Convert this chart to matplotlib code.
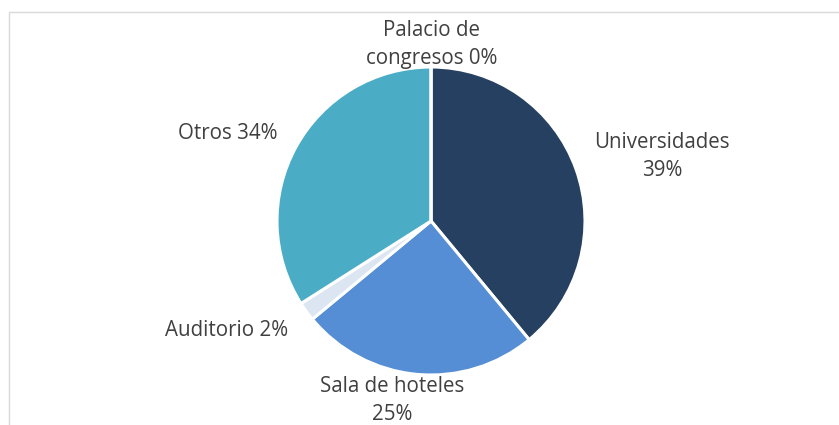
import numpy as np
import matplotlib
matplotlib.use('Agg')
import matplotlib.pyplot as plt
from matplotlib.lines import Line2D

# Lugar de celebración de los eventos
labels = ['Universidades', 'Sala de hoteles', 'Auditorio', 'Otros', 'Palacio de congresos']
shares = [39, 25, 2, 34, 0]
label_text = ['Universidades\n39%', 'Sala de hoteles\n25%', 'Auditorio 2%',
              'Otros 34%', 'Palacio de\ncongresos 0%']
colors = ['#264061', '#558ED5', '#DCE6F2', '#4BACC6', '#8EB4E3']

# label placement (relative to pie centre, radius = 1)
label_pos = [(1.50, 0.42), (-0.25, -1.165), (-1.33, -0.71), (-1.32, 0.57), (0.005, 1.145)]

W, H = 839, 425
cx, cy, r = 431, 221, 154

plt.rcParams['font.family'] = ['Open Sans', 'DejaVu Sans']
fig = plt.figure(figsize=(W / 100, H / 100), dpi=100)
ax = fig.add_axes([0, 0, 1, 1])

ax.pie(shares, colors=colors, startangle=90, counterclock=False,
       wedgeprops=dict(edgecolor='white', linewidth=2.2))

for txt, (x, y) in zip(label_text, label_pos):
    ax.text(x, y, txt, ha='center', va='center', fontsize=14.8,
            color='#404040', linespacing=1.47)

ax.set_xlim(-cx / r, (W - cx) / r)
ax.set_ylim((cy - H) / r, cy / r)
ax.set_aspect('equal')
ax.axis('off')

# chart area border (top and left edges)
fig.add_artist(Line2D([8.5 / W, 8.5 / W, 1], [0, 1 - 11.5 / H, 1 - 11.5 / H],
                      transform=fig.transFigure, color='#D9D9D9', linewidth=1))

fig.savefig('out.png', dpi=100)
